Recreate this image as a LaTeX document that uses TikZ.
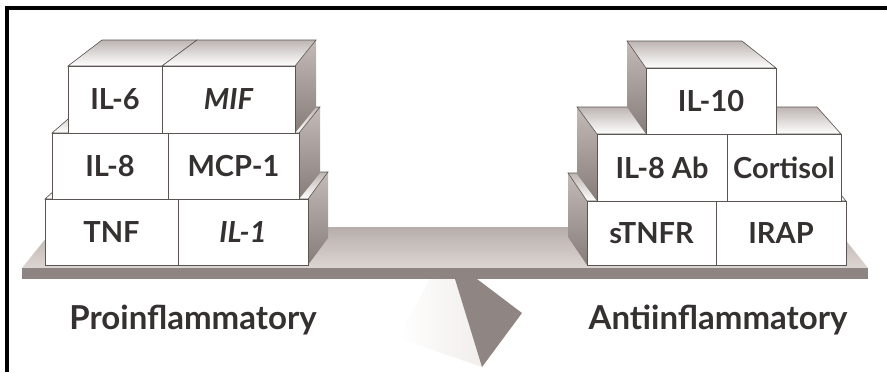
\documentclass[tikz,border=0pt]{standalone}
\usepackage{fontspec}
\setmainfont{Lato}
\usepackage{tikz}
\definecolor{inkgray}{HTML}{353131}
\definecolor{edgegray}{HTML}{5A5452}
\definecolor{sidetop}{HTML}{C4BBB8}
\definecolor{sidebot}{HTML}{867C79}
\definecolor{topback}{HTML}{BDB5B2}
\definecolor{plankback}{HTML}{B7AEAB}
\definecolor{plankfront}{HTML}{DCD6D3}
\definecolor{plankedge}{HTML}{8E8482}
\definecolor{pivotdark}{HTML}{8F8582}
\definecolor{pivotlight}{HTML}{F1EEEC}
\tikzset{sideface/.style={top color=sidetop, bottom color=sidebot},
  topface/.style={top color=topback, bottom color=white, draw=edgegray, line width=0.3pt},
  frontface/.style={fill=white, draw=edgegray, line width=0.4pt},
  cytolabel/.style={text=inkgray, font=\fontsize{14.5}{16}\selectfont\bfseries, inner sep=0pt},
  sidelabel/.style={text=inkgray, font=\fontsize{16.5}{19}\selectfont\bfseries, inner sep=0pt}}

% one block: x1, x2, top, bottom, back shift left, back shift right, back rise, name, text
\newcommand\cytobox[9]{%
  \path[sideface] (#1,#3) -- (#1+#5,#3+#7) -- (#1+#5,#4+#7) -- (#1,#4) -- cycle;
  \path[sideface] (#2,#3) -- (#2+#6,#3+#7) -- (#2+#6,#4+#7) -- (#2,#4) -- cycle;
  \path[topface] (#1,#3) -- (#2,#3) -- (#2+#6,#3+#7) -- (#1+#5,#3+#7) -- cycle;
  \draw[frontface] (#1,#3) rectangle (#2,#4);
  \node[cytolabel] (#8) at ({(#1+#2)/2},{(#3+#4)/2}) {#9};}

\begin{document}
\begin{tikzpicture}[x=0.5pt, y=-0.5pt]
    \useasboundingbox (0,0) rectangle (887,372);
    \draw[line width=1.6pt] (7,372) -- (7,8) -- (887,8);

    % fulcrum
    \path[left color=white, right color=pivotlight] (455,279) -- (482,367) -- (398,338) -- (430,279) -- cycle;
    \fill[pivotdark] (455,279) -- (477,279) -- (522,313) -- (482,367) -- cycle;

    % beam
    \path[top color=plankback, bottom color=plankfront] (22,268) -- (55,227) -- (835,227) -- (868,268) -- cycle;
    \fill[plankedge] (22,268) rectangle (868,279);

    % left stack, bottom row first
    \cytobox{45}{178}{199}{265}{30}{20}{-27}{tnf}{TNF}
    \cytobox{178}{308}{199}{265}{20}{20}{-27}{il1}{\itshape IL-1}
    \cytobox{52}{168}{133}{199}{30}{22}{-26}{il8}{IL-8}
    \cytobox{168}{299}{133}{199}{30}{21}{-26}{mcp}{MCP-1}
    \cytobox{68}{162}{66}{133}{34}{35}{-26}{il6}{IL-6}
    \cytobox{162}{295}{66}{133}{35}{21}{-26}{mif}{\itshape MIF}

    % right stack, right block of each row first
    \cytobox{716}{846}{201}{265}{-20}{-23}{-28}{irap}{IRAP}
    \cytobox{587}{716}{201}{265}{-19}{-20}{-28}{stnfr}{sTNFR}
    \cytobox{727}{841}{134}{201}{-20}{-24}{-27}{cort}{Cortisol}
    \cytobox{597}{727}{134}{201}{-20}{-20}{-27}{il8ab}{IL-8 Ab}
    \cytobox{646}{776}{68}{134}{-19}{-34}{-27}{il10}{IL-10}

    \node[sidelabel] (pro) at (193,320) {Proinflammatory};
    \node[sidelabel] (anti) at (718,320) {Antiinflammatory};
\end{tikzpicture}
\end{document}
